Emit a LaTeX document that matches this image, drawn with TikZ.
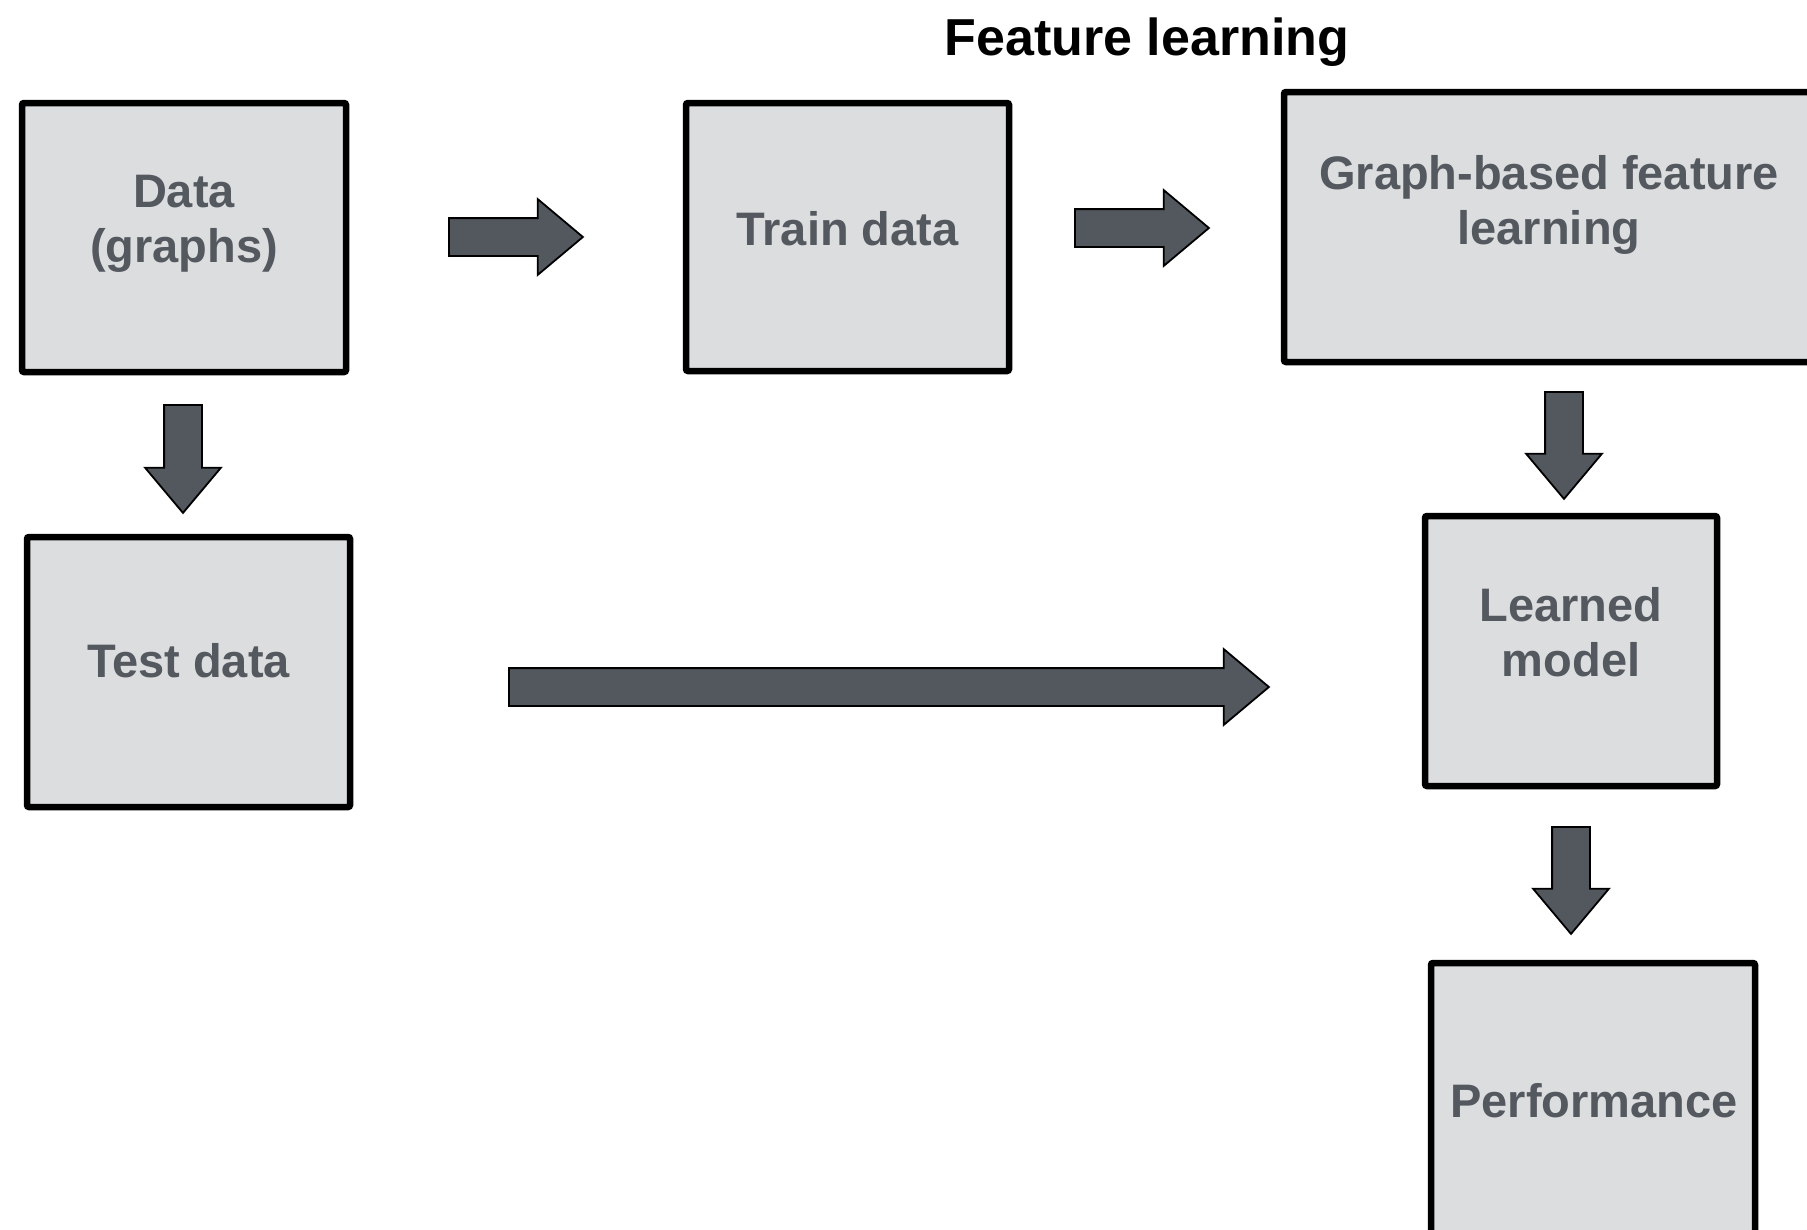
\documentclass[tikz,border=0pt]{standalone}
\usepackage{fontspec}
\setmainfont{Liberation Sans}
\usepackage{xcolor}
\usetikzlibrary{shapes.arrows}
\definecolor{boxfill}{HTML}{DCDDDF}
\definecolor{boxtext}{HTML}{54585F}
\definecolor{arrowfill}{HTML}{53575E}
\tikzset{
    stage-box/.style = {draw=black, fill=boxfill, line width=6.5pt, rectangle, rounded corners=2pt, inner sep=0pt},
    stage-text/.style = {text=boxtext, font=\fontsize{47}{55}\selectfont\bfseries, align=center},
    block-arrow/.style = {single arrow, draw=black, fill=arrowfill, line width=1.8pt, inner sep=0pt, text height=36pt, text depth=0pt, single arrow head extend=19pt, single arrow tip angle=80, anchor=tail},
    title-text/.style = {font=\fontsize{52}{60}\selectfont\bfseries},
}
\begin{document}
\begin{tikzpicture}[x=1pt, y=-1pt]
\useasboundingbox (0,0) rectangle (1807,1229);
% boxes
\node [stage-box, minimum width=324pt, minimum height=269pt] (data) at (184,237.5) {};
\node [stage-box, minimum width=323pt, minimum height=268pt] (train) at (847.5,237) {};
\node [stage-box, minimum width=530pt, minimum height=270pt] (graph) at (1549,227) {};
\node [stage-box, minimum width=323pt, minimum height=270pt] (test) at (188.5,672) {};
\node [stage-box, minimum width=292pt, minimum height=270pt] (learned) at (1571,651) {};
\node [stage-box, minimum width=324pt, minimum height=272pt] (perf) at (1593,1099) {};
% box texts
\node [stage-text] (data-txt) at (184,224) {Data\\(graphs)};
\node [stage-text, anchor=base] (train-txt) at (847.5,245) {Train data};
\node [stage-text] (graph-txt) at (1549,205) {Graph-based feature\\learning};
\node [stage-text, anchor=base] (test-txt) at (188.5,677) {Test data};
\node [stage-text] (learned-txt) at (1571,632.5) {Learned\\model};
\node [stage-text, anchor=base] (perf-txt) at (1594,1117) {Performance};
\node [title-text] (title) at (1147,42) {Feature learning};
% block arrows
\node [block-arrow, minimum height=134pt] (arr-train) at (448,237) {};
\node [block-arrow, minimum height=134pt] (arr-graph) at (1074,228) {};
\node [block-arrow, minimum height=108pt, rotate=-90] (arr-test) at (183,404) {};
\node [block-arrow, minimum height=760pt] (arr-model) at (508,687) {};
\node [block-arrow, minimum height=107pt, rotate=-90] (arr-learned) at (1564,391) {};
\node [block-arrow, minimum height=107pt, rotate=-90] (arr-perf) at (1571,826) {};
\end{tikzpicture}
\end{document}
